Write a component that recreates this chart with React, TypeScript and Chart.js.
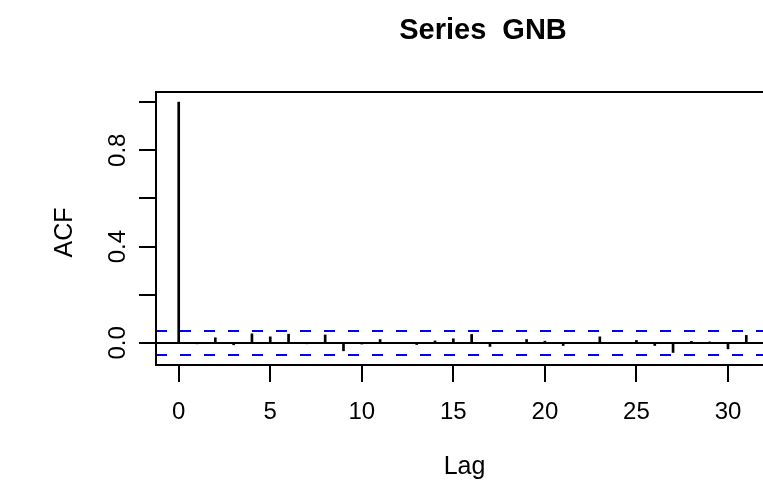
import React, { useEffect, useRef } from "react";
import { Chart, registerables } from "chart.js";

Chart.register(...registerables);

// ---- data ----
const TITLE = "Series  GNB";
const X_LABEL = "Lag";
const Y_LABEL = "ACF";

const lags = [
  0, 1, 2, 3, 4, 5, 6, 7, 8, 9, 10, 11, 12, 13, 14, 15,
  16, 17, 18, 19, 20, 21, 22, 23, 24, 25, 26, 27, 28, 29, 30, 31,
];
const acfValues = [
  1.0, -0.004, 0.021, -0.008, 0.0375, 0.025, 0.036, -0.004, 0.033, -0.033,
  -0.005, 0.014, -0.003, -0.007, 0.008, 0.017, 0.035, -0.015, -0.002, 0.014,
  0.007, -0.011, -0.002, 0.025, 0.001, 0.01, -0.011, -0.04, 0.006, 0.004,
  -0.025, 0.031,
];
const confidenceLimit = 0.05;
const xTickValues = [0, 5, 10, 15, 20, 25, 30];
const yTickValues = [0, 0.2, 0.4, 0.6, 0.8, 1.0];
const yLabelValues = [0, 0.4, 0.8];
const xRange = [-1.24, 32.24];
const yRange = [-0.092, 1.042];

// ---- layout / style ----
const CANVAS_W = 790;
const CANVAS_H = 483;
const FONT = '"Liberation Sans", Arial, Helvetica, sans-serif';
const AXIS_FONT_PX = 24;
const LABEL_FONT_PX = 25;
const TITLE_FONT_PX = 29;
const TITLE_CENTER_X = 483;

const axesPlugin = {
  id: "rAxes",
  afterDraw(chart: any) {
    const { ctx, chartArea } = chart;
    const { left, right, top, bottom } = chartArea;
    const xs = chart.scales.x;
    const ys = chart.scales.y;
    ctx.save();
    ctx.strokeStyle = "#000";
    ctx.fillStyle = "#000";
    ctx.lineWidth = 2;
    ctx.lineCap = "butt";

    // zero line
    const y0 = Math.round(ys.getPixelForValue(0));
    ctx.beginPath();
    ctx.moveTo(left, y0);
    ctx.lineTo(right, y0);
    ctx.stroke();

    // confidence limits
    ctx.strokeStyle = "#0000ff";
    ctx.setLineDash([11, 13]);
    [confidenceLimit, -confidenceLimit].forEach((c) => {
      const y = Math.round(ys.getPixelForValue(c));
      ctx.beginPath();
      ctx.moveTo(left, y);
      ctx.lineTo(right, y);
      ctx.stroke();
    });
    ctx.setLineDash([]);
    ctx.strokeStyle = "#000";

    // box
    ctx.strokeRect(left, top, right - left, bottom - top);

    // y ticks
    ctx.beginPath();
    yTickValues.forEach((v) => {
      const y = Math.round(ys.getPixelForValue(v));
      ctx.moveTo(left - 17, y);
      ctx.lineTo(left, y);
    });
    ctx.stroke();

    // x ticks
    ctx.beginPath();
    xTickValues.forEach((v) => {
      const x = Math.round(xs.getPixelForValue(v));
      ctx.moveTo(x, bottom);
      ctx.lineTo(x, bottom + 17);
    });
    ctx.stroke();

    // tick labels
    ctx.font = `${AXIS_FONT_PX}px ${FONT}`;
    ctx.textAlign = "center";
    ctx.textBaseline = "middle";
    xTickValues.forEach((v) => {
      ctx.fillText(String(v), xs.getPixelForValue(v), bottom + 47);
    });
    yLabelValues.forEach((v) => {
      ctx.save();
      ctx.translate(left - 38, ys.getPixelForValue(v));
      ctx.rotate(-Math.PI / 2);
      ctx.fillText(v.toFixed(1), 0, 0);
      ctx.restore();
    });

    // axis titles
    ctx.font = `${LABEL_FONT_PX}px ${FONT}`;
    const midX = (left + right) / 2;
    ctx.fillText(X_LABEL, midX + 2, bottom + 102);
    ctx.save();
    ctx.translate(left - 91, (top + bottom) / 2 + 4);
    ctx.rotate(-Math.PI / 2);
    ctx.fillText(Y_LABEL, 0, 0);
    ctx.restore();

    // main title
    ctx.font = `bold ${TITLE_FONT_PX}px ${FONT}`;
    ctx.fillText(TITLE, TITLE_CENTER_X, 31);
    ctx.restore();
  },
};

export default function App() {
  const canvasRef = useRef<HTMLCanvasElement | null>(null);

  useEffect(() => {
    const canvas = canvasRef.current;
    if (!canvas) return;
    const chart = new Chart(canvas, {
      type: "bar",
      data: {
        datasets: [
          {
            data: lags.map((lag, i) => ({ x: lag, y: acfValues[i] })),
            backgroundColor: "#000",
            borderWidth: 0,
            barThickness: 2,
          },
        ],
      },
      options: {
        responsive: false,
        animation: false,
        devicePixelRatio: 1,
        layout: {
          padding: { left: 156, top: 92, right: CANVAS_W - 769, bottom: CANVAS_H - 365 },
        },
        plugins: {
          legend: { display: false },
          title: { display: false },
          tooltip: { enabled: false },
        },
        scales: {
          x: {
            type: "linear",
            min: xRange[0],
            max: xRange[1],
            display: false,
            offset: false,
          },
          y: {
            type: "linear",
            min: yRange[0],
            max: yRange[1],
            display: false,
          },
        },
      },
      plugins: [axesPlugin],
    });
    return () => chart.destroy();
  }, []);

  return (
    <div
      style={{
        position: "fixed",
        left: 0,
        top: 0,
        width: 763,
        height: 483,
        overflow: "hidden",
        background: "#fff",
      }}
    >
      <canvas
        ref={canvasRef}
        width={CANVAS_W}
        height={CANVAS_H}
        style={{ width: CANVAS_W, height: CANVAS_H, display: "block" }}
      />
    </div>
  );
}
